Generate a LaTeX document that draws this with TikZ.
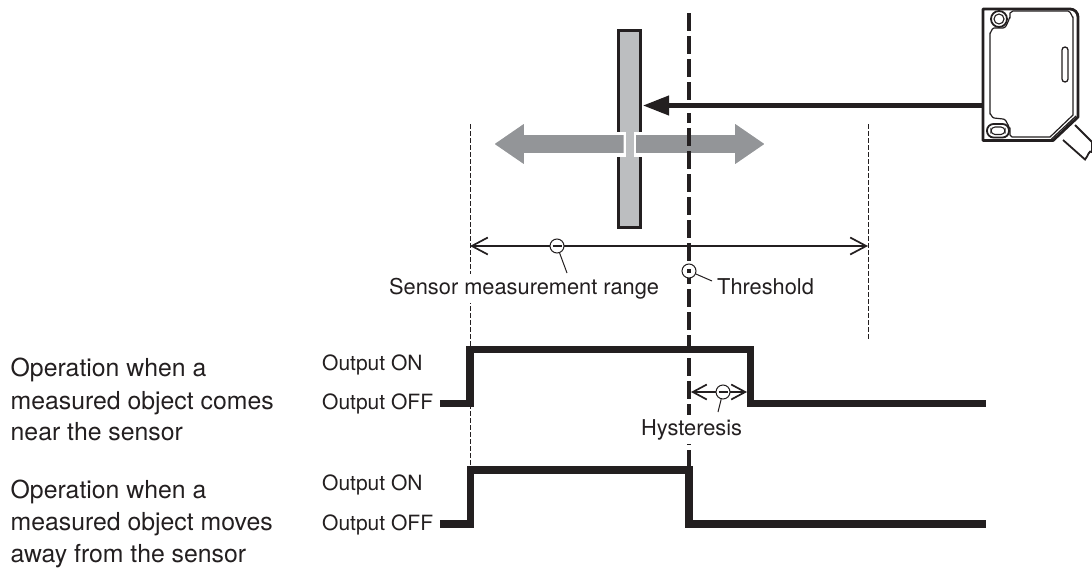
\documentclass[tikz,border=0pt]{standalone}
\usepackage{fontspec}
\setmainfont{TeX Gyre Heros}
\usetikzlibrary{arrows.meta}
\definecolor{barfill}{HTML}{BCBEC0}
\definecolor{movegray}{HTML}{939598}
\definecolor{ink}{HTML}{231F20}
\tikzset{
  lbl/.style={anchor=base west,inner xsep=1pt,inner ysep=4pt,text=ink,font=\fontsize{21.8}{25}\selectfont},
  biglbl/.style={lbl,font=\fontsize{24.8}{29}\selectfont},
  outlbl/.style={lbl,font=\fontsize{21}{25}\selectfont},
  callout/.style={circle,draw=ink,fill=white,line width=1pt,minimum size=14pt,inner sep=0pt},
  leader/.style={draw=ink,line width=1pt},
  thinguide/.style={draw=ink,line width=0.8pt,dash pattern=on 4.5pt off 2.5pt},
  dimline/.style={draw=ink,line width=1.4pt,{Straight Barb[length=16pt,width=17pt,line width=1.7pt]}-{Straight Barb[length=16pt,width=17pt,line width=1.7pt]}},
  shortdim/.style={draw=ink,line width=1.4pt,{Straight Barb[length=14pt,width=15pt,line width=1.7pt]}-{Straight Barb[length=14pt,width=15pt,line width=1.7pt]}},
  wave/.style={draw=ink,line width=7.3pt,miter limit=10}
}
\begin{document}
\begin{tikzpicture}[x=1pt,y=-1pt]
  \useasboundingbox (0,0) rectangle (1092,570);
  % thin guides
  \draw[thinguide] (470,124) -- (470,472);
  \draw[thinguide] (868,124) -- (868,340);
  % waveforms
  \draw[wave] (440,403.5) -- (470,403.5) -- (470,349.5) -- (750.5,349.5) -- (750.5,403.5) -- (986,403.5);
  \draw[wave] (440,524) -- (470.5,524) -- (470.5,470) -- (689,470) -- (689,524) -- (986,524);
  % moving object, white gap round the wide arrow
  \draw[draw=ink,fill=barfill,line width=3pt] (618.5,30.5) rectangle (640.5,227.5);
  \fill[white] (612,131.5) rectangle (647,156.5);
  \fill[barfill] (626,131.5) rectangle (633.5,156.5);
  \foreach \x/\tip/\neck in {624.5/493/525,635/766/734} {
    \filldraw[fill=movegray,draw=white,line width=1.6pt] (\x,134) -- (\neck,134) -- (\neck,122) -- (\tip,144) -- (\neck,166) -- (\neck,154) -- (\x,154) -- cycle;
  }
  % threshold line
  \draw[draw=ink,line width=4.4pt,dash pattern=on 17.5pt off 5.5pt] (689,13) -- (689,470);
  % beam
  \fill[white] (680,99.5) rectangle (698,112.5);
  \coordinate (beamstart) at (983,105.5);
  \coordinate (beamend) at (643,105.5);
  \draw[draw=ink,line width=4.2pt,-{Triangle[length=26pt,width=19pt]}] (beamstart) -- (beamend);
  % sensor head
  \draw[draw=ink,line width=1.8pt,fill=white] (1075,125) -- (1092,142) -- (1092,152) to[out=135,in=45] (1085,159.5) -- (1063,140);
  \draw[draw=ink,line width=2.8pt,fill=white,line join=round] (983,9) -- (1070,9) to[out=0,in=90] (1078,17) -- (1078,117) -- (1053,140.5) -- (983,140.5) -- cycle;
  \draw[draw=ink,line width=1.2pt,line join=round] (1013,11) -- (1010,13) -- (1010,18) to[out=90,in=0] (1003,28) -- (994,28) to[out=180,in=-90] (990,33) -- (990,114) to[out=90,in=180] (994,118) -- (1003,119) to[out=0,in=-90] (1010,128) -- (1010,135) to[out=90,in=180] (1012,137) -- (1050,137) -- (1073,115) -- (1073,17) to[out=-90,in=0] (1068,11) -- cycle;
  \draw[draw=ink,line width=1.2pt] (1076,116) -- (1051.5,139);
  \draw[draw=ink,line width=1.8pt] (999,19) circle (8pt);
  \draw[draw=ink,line width=1.1pt] (999,19) circle (5pt);
  \draw[draw=ink,line width=1.8pt,rounded corners=6.5pt] (987,124) rectangle (1009,137.5);
  \draw[draw=ink,line width=1.1pt,rounded corners=4pt] (991,127) rectangle (1005,134.5);
  \draw[draw=ink,line width=1.3pt,rounded corners=3pt] (1062,47) rectangle (1068,82);
  % range and hysteresis
  \coordinate (rangeleft) at (470,246);
  \coordinate (rangeright) at (868,246);
  \draw[dimline] (rangeleft) -- (rangeright);
  \coordinate (hystleft) at (691,392);
  \coordinate (hystright) at (747,392);
  \draw[shortdim] (hystleft) -- (hystright);
  % labels
  \node[lbl,fill=white] (rangelabel) at (388,294) {Sensor measurement range};
  \node[lbl] (thresholdlabel) at (716,294) {Threshold};
  \node[lbl,fill=white] (hystlabel) at (640,435) {Hysteresis};
  \node[callout] (rangemark) at (557,246) {};
  \node[callout] (thresholdmark) at (689,271) {};
  \node[callout] (hystmark) at (723,392) {};
  \draw[draw=ink,line width=1.4pt] (552.5,246) -- (561.5,246);
  \draw[draw=ink,line width=1.4pt] (718.5,392) -- (727.5,392);
  \fill[ink] (687,269) rectangle (691,273);
  \draw[leader] (rangemark) -- (567,273);
  \draw[leader] (thresholdmark) -- (712,281);
  \draw[leader] (hystmark) -- (718,412);
  \foreach \name/\y/\txt in {onA/370.7/Output ON,offA/409.5/Output OFF,onB/490.5/Output ON,offB/530.5/Output OFF} {
    \node[outlbl] (\name) at (321,\y) {\txt};
  }
  \foreach \name/\y/\txt in {nearA/376.7/Operation when a,nearB/409/measured object comes,nearC/440.5/near the sensor,
    awayA/498.3/Operation when a,awayB/530/measured object moves,awayC/562/away from the sensor} {
    \node[biglbl] (\name) at (9.5,\y) {\txt};
  }
\end{tikzpicture}
\end{document}
